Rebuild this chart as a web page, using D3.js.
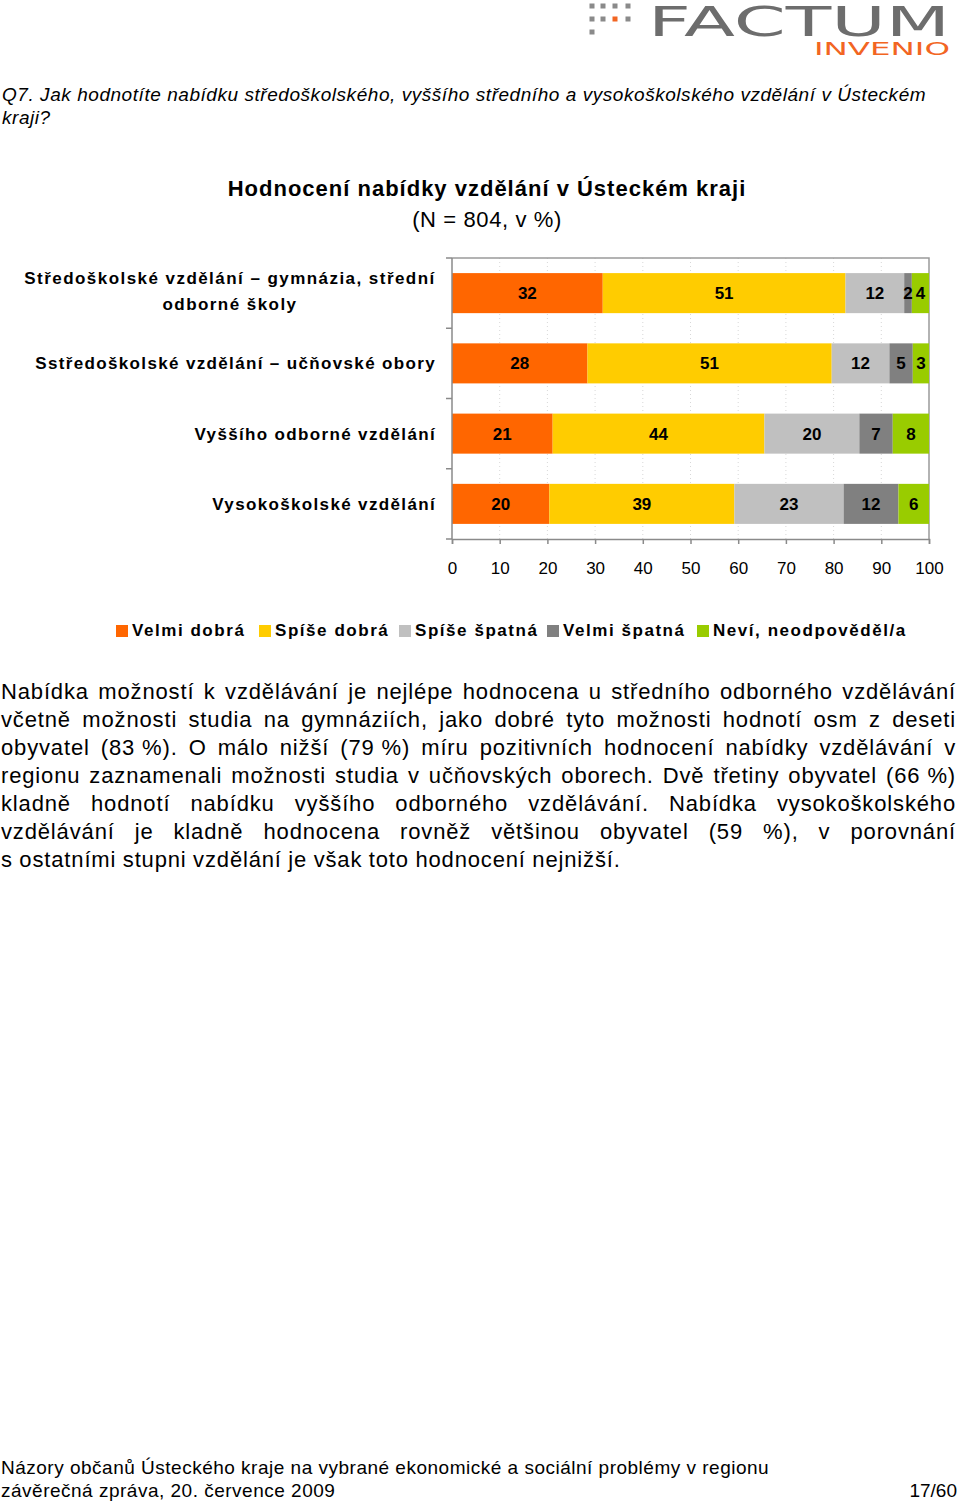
<!DOCTYPE html>
<html><head><meta charset="utf-8">
<script src="https://cdn.jsdelivr.net/npm/d3@7"></script>
<style>body{margin:0;background:#fff}svg{display:block}</style>
</head><body>
<script>
const categories = ["Středoškolské vzdělání – gymnázia, střední odborné školy","Sstředoškolské vzdělání – učňovské obory","Vyššího odborné vzdělání","Vysokoškolské vzdělání"];
const categoryLines = [["Středoškolské vzdělání – gymnázia, střední","odborné školy"],["Sstředoškolské vzdělání – učňovské obory"],["Vyššího odborné vzdělání"],["Vysokoškolské vzdělání"]];
const seriesNames = ["Velmi dobrá","Spíše dobrá","Spíše špatná","Velmi špatná","Neví, neodpověděl/a"];
const velmiDobra = [31.6, 28.4, 21.1, 20.4];
const spiseDobra = [50.9, 51.2, 44.4, 38.8];
const spiseSpatna = [12.3, 12.1, 19.9, 22.9];
const velmiSpatna = [1.6, 4.9, 7.0, 11.5];
const nevi = [3.6, 3.4, 7.6, 6.4];
const xTicks = [0,10,20,30,40,50,60,70,80,90,100];
const colors = ["#FF6600","#FFCC00","#C0C0C0","#808080","#99CC00"];

const paragraph = [
 "Nabídka možností k vzdělávání je nejlépe hodnocena u středního odborného vzdělávání",
 "včetně možnosti studia na gymnáziích, jako dobré tyto možnosti hodnotí osm z deseti",
 "obyvatel (83\u00a0%).  O málo nižší (79\u00a0%) míru pozitivních hodnocení nabídky vzdělávání v",
 "regionu zaznamenali možnosti studia v učňovských oborech. Dvě třetiny obyvatel (66\u00a0%)",
 "kladně hodnotí nabídku vyššího odborného vzdělávání. Nabídka vysokoškolského",
 "vzdělávání je kladně hodnocena rovněž většinou obyvatel (59 %), v porovnání",
 "s ostatními stupni vzdělání je však toto hodnocení nejnižší."
];

const W=960,H=1504;
const svg=d3.select("body").append("svg").attr("width",W).attr("height",H);
const F="'Liberation Sans', Arial, sans-serif";

// Logo
const logo=svg.append("g");
const dots=[[592,6,0],[603,6,0],[615,6,0],[628,6,0],[592,19,0],[603,19,0],[615,19,1],[628,19,0],[592,32,0]];
logo.selectAll("rect").data(dots).enter().append("rect")
 .attr("x",d=>d[0]-2.5).attr("y",d=>d[1]-2.5).attr("width",5).attr("height",5)
 .attr("fill",d=>d[2]?"#F26522":"#8a8a8a");
logo.append("text").attr("x",648).attr("y",36).attr("font-family","'DejaVu Sans'").attr("font-size",40)
 .attr("textLength",302).attr("lengthAdjust","spacingAndGlyphs").attr("fill","#6d6d6d").text("FACTUM");
logo.append("text").attr("x",814).attr("y",55).attr("font-family","'DejaVu Sans'").attr("font-size",18)
 .attr("textLength",136).attr("lengthAdjust","spacingAndGlyphs").attr("fill","#F26522").text("INVENIO");

// Question
svg.append("text").attr("x",2).attr("y",101).attr("font-family",F).attr("font-size",19).attr("font-style","italic").attr("letter-spacing",0.55)
 .text("Q7.  Jak hodnotíte nabídku středoškolského, vyššího středního a vysokoškolského vzdělání v Ústeckém");
svg.append("text").attr("x",2).attr("y",124).attr("font-family",F).attr("font-size",19).attr("font-style","italic").attr("letter-spacing",0.55).text("kraji?");

// Title
svg.append("text").attr("x",487).attr("y",196).attr("text-anchor","middle").attr("font-family",F).attr("font-size",22).attr("font-weight","bold").attr("letter-spacing",1).text("Hodnocení nabídky vzdělání v Ústeckém kraji");
svg.append("text").attr("x",487).attr("y",227).attr("text-anchor","middle").attr("font-family",F).attr("font-size",22).attr("letter-spacing",0.6).text("(N = 804, v %)");

// Chart
const x0=452,x1=929,y0=258,y1=539;
const x=d3.scaleLinear().domain([0,100]).range([x0,x1]);
const y=d3.scaleBand().domain(categories).range([y0,y1]).paddingInner(0.43).paddingOuter(0.215);
const g=svg.append("g");
g.selectAll("line.grid").data(xTicks.slice(1,-1)).enter().append("line")
 .attr("x1",d=>x(d)).attr("x2",d=>x(d)).attr("y1",y0).attr("y2",y1)
 .attr("stroke","#d8d8d8").attr("stroke-dasharray","1,3");
g.append("path").attr("d",`M${x0},${y0}H${x1}V${y1}`).attr("fill","none").attr("stroke","#9a9a9a").attr("stroke-width",1.5);

const seriesVals=[velmiDobra,spiseDobra,spiseSpatna,velmiSpatna,nevi];
const rows=categories.map((c,i)=>{let s=0;return seriesVals.map((arr,k)=>{const v=arr[i];const seg={c,k,v,start:s,end:s+v};s+=v;return seg;});});
const segs=rows.flat();
g.selectAll("rect.bar").data(segs).enter().append("rect")
 .attr("x",d=>x(d.start)).attr("width",d=>x(d.end)-x(d.start))
 .attr("y",d=>y(d.c)).attr("height",y.bandwidth()).attr("fill",d=>colors[d.k]);
g.selectAll("text.lbl").data(segs).enter().append("text")
 .attr("x",d=>(x(d.start)+x(d.end))/2).attr("y",d=>y(d.c)+y.bandwidth()/2+6)
 .attr("text-anchor","middle").attr("font-family",F).attr("font-size",17).attr("font-weight","bold")
 .text(d=>Math.round(d.v));

const xa=svg.append("g").attr("transform",`translate(0,${y1})`)
 .call(d3.axisBottom(x).tickValues(xTicks).tickSize(5).tickPadding(18));
xa.selectAll("text").attr("font-family",F).attr("font-size",17).attr("fill","#000");
xa.selectAll("line,path").attr("stroke","#8a8a8a").attr("stroke-width",1.5);
svg.append("line").attr("x1",x0).attr("x2",x0).attr("y1",y0).attr("y2",y1).attr("stroke","#8a8a8a").attr("stroke-width",1.5);
svg.selectAll("line.ytick").data(d3.range(5)).enter().append("line")
 .attr("x1",x0-6).attr("x2",x0).attr("y1",i=>y0+i*(y1-y0)/4).attr("y2",i=>y0+i*(y1-y0)/4).attr("stroke","#8a8a8a").attr("stroke-width",1.5);

categories.forEach((c,i)=>{
 const lines=categoryLines[i];
 const cy=y(c)+y.bandwidth()/2;
 if(lines.length===1){
  svg.append("text").attr("x",436).attr("y",cy+6).attr("text-anchor","end").attr("font-family",F).attr("font-size",17).attr("font-weight","bold").attr("letter-spacing",1.35).text(lines[0]);
 } else {
  lines.forEach((l,j)=>{
   svg.append("text").attr("x",230).attr("y",cy-9+j*26).attr("text-anchor","middle").attr("font-family",F).attr("font-size",17).attr("font-weight","bold").attr("letter-spacing",1.45).text(l);
  });
 }
});

const legX=[116,259,399,547,697];
const leg=svg.append("g");
seriesNames.forEach((n,k)=>{
 leg.append("rect").attr("x",legX[k]).attr("y",625).attr("width",12).attr("height",12).attr("fill",colors[k]);
 leg.append("text").attr("x",legX[k]+16).attr("y",636).attr("font-family",F).attr("font-size",17).attr("font-weight","bold").attr("letter-spacing",1.55).text(n);
});

const pY=[699,727,755,783,811,839,867];
paragraph.forEach((line,i)=>{
 const words=line.split(/ +/);
 const gl=svg.append("g");
 const ts=words.map(w=>gl.append("text").attr("y",pY[i]).attr("font-family",F).attr("font-size",22).attr("letter-spacing",0.85).text(w));
 const widths=ts.map(t=>t.node().getComputedTextLength());
 const total=d3.sum(widths);
 const last=i===paragraph.length-1;
 const gap=last?6.5:(956-1-total)/(words.length-1);
 let cx=1;
 ts.forEach((t,k)=>{t.attr("x",cx);cx+=widths[k]+gap;});
});

svg.append("text").attr("x",1).attr("y",1474).attr("font-family",F).attr("font-size",19).attr("letter-spacing",0.5).text("Názory občanů Ústeckého kraje na vybrané ekonomické a sociální problémy v regionu");
svg.append("text").attr("x",1).attr("y",1497).attr("font-family",F).attr("font-size",19).attr("letter-spacing",0.5).text("závěrečná zpráva, 20. července 2009");
svg.append("text").attr("x",957).attr("y",1497).attr("text-anchor","end").attr("font-family",F).attr("font-size",19).text("17/60");
</script>
</body></html>
